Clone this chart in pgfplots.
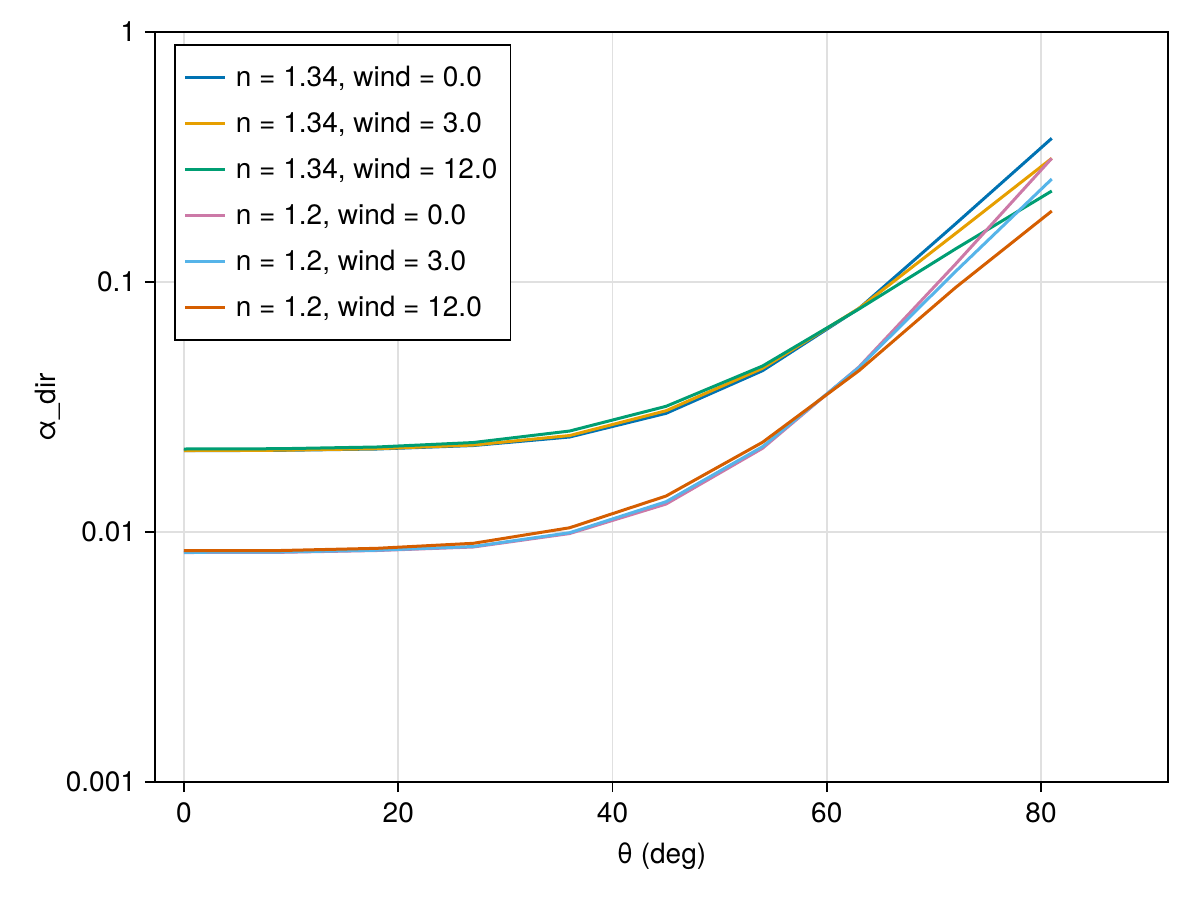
\documentclass[border=0pt]{standalone}
\usepackage{fontspec}
\setmainfont{TeX Gyre Heros}
\usepackage{pgfplots}
\pgfplotsset{compat=1.18}
\definecolor{wblue}{RGB}{0,114,178}
\definecolor{worange}{RGB}{230,159,0}
\definecolor{wgreen}{RGB}{0,158,115}
\definecolor{wpink}{RGB}{204,121,167}
\definecolor{wsky}{RGB}{86,180,233}
\definecolor{wverm}{RGB}{213,94,0}
\begin{document}
\begin{tikzpicture}[font=\fontsize{14}{16.8}\selectfont]
\useasboundingbox (-77.5pt,-59pt) rectangle (522.5pt,391pt);
\begin{axis}[
  at={(0,0)}, anchor=south west,
  scale only axis,
  width=506.5pt, height=375pt,
  xmin=-2.707, xmax=91.85,
  ymode=log, ymin=0.001, ymax=1,
  xtick={0,20,40,60,80},
  ytick={0.001,0.01,0.1,1},
  yticklabels={0.001,0.01,0.1,1},
  minor ytick={},
  minor y tick num=0,
  minor tick length=0pt,
  tick align=outside,
  major tick length=5pt,
  tick style={black, line width=0.8pt},
  xtick pos=bottom, ytick pos=left,
  axis line style={black, line width=0.9pt},
  xmajorgrids, ymajorgrids, yminorgrids=false,
  major grid style={black!12, line width=0.8pt},
  /pgf/number format/assume math mode=true,
  xticklabel style={yshift=-2pt},
  yticklabel style={xshift=-1pt},
  xlabel={θ (deg)},
  ylabel={α\_dir},
  xlabel style={yshift=-3pt},
  ylabel style={yshift=-4pt},
  legend cell align=left,
  legend style={at={(0,1)}, anchor=north west, xshift=9.5pt, yshift=-6pt,
    draw=black, line width=0.9pt, inner xsep=4.5pt, inner ysep=8.5pt,
    row sep=7.3pt, column sep=2.5pt, font=\fontsize{14}{16.8}\selectfont},
  legend image code/.code={\draw[#1, line width=1.5pt] (0pt,0pt) -- (20pt,0pt);},
  every axis plot/.append style={line width=1.5pt},
]
\addplot[wblue] coordinates {(0,0.02114) (9,0.02122) (18,0.02148) (27,0.02218) (36,0.02399) (45,0.02984) (54,0.04418) (63,0.07834) (72,0.1706) (81,0.3757)};
\addlegendentry{n = 1.34, wind = 0.0}
\addplot[worange] coordinates {(0,0.02118) (9,0.02124) (18,0.02154) (27,0.02228) (36,0.02432) (45,0.03056) (54,0.04517) (63,0.07846) (72,0.1561) (81,0.3125)};
\addlegendentry{n = 1.34, wind = 3.0}
\addplot[wgreen] coordinates {(0,0.02148) (9,0.02154) (18,0.02188) (27,0.02280) (36,0.02535) (45,0.03183) (54,0.04613) (63,0.07798) (72,0.1355) (81,0.2312)};
\addlegendentry{n = 1.34, wind = 12.0}
\addplot[wpink] coordinates {(0,0.008279) (9,0.008294) (18,0.008433) (27,0.00871) (36,0.00986) (45,0.01294) (54,0.02162) (63,0.04571) (72,0.1177) (81,0.3125)};
\addlegendentry{n = 1.2, wind = 0.0}
\addplot[wsky] coordinates {(0,0.008294) (9,0.008318) (18,0.008457) (27,0.00875) (36,0.009936) (45,0.01322) (54,0.02194) (63,0.0455) (72,0.11) (81,0.2582)};
\addlegendentry{n = 1.2, wind = 3.0}
\addplot[wverm] coordinates {(0,0.008417) (9,0.008433) (18,0.008605) (27,0.009012) (36,0.0104) (45,0.01393) (54,0.02285) (63,0.04418) (72,0.0949) (81,0.1923)};
\addlegendentry{n = 1.2, wind = 12.0}
\end{axis}
\end{tikzpicture}
\end{document}
